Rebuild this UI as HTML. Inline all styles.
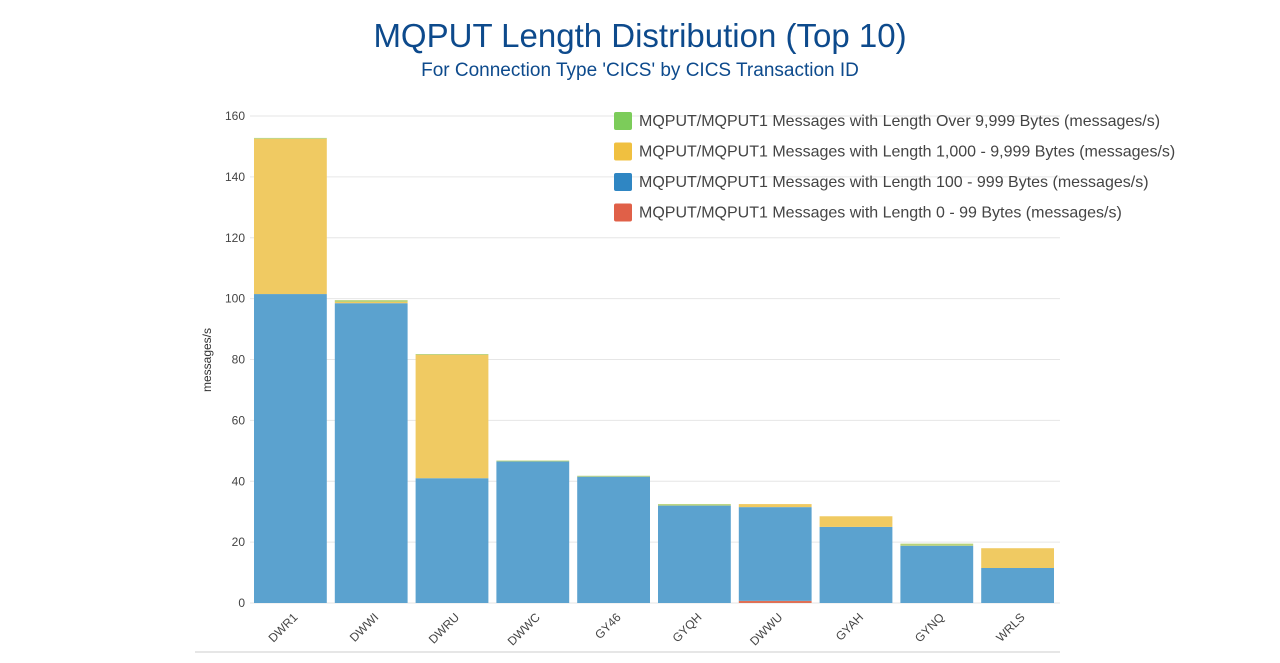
<!DOCTYPE html>
<html><head><meta charset="utf-8"><style>
body{margin:0;background:#fff;width:1280px;height:658px;overflow:hidden;font-family:"Liberation Sans",sans-serif}
</style></head><body>
<svg width="1280" height="658" xmlns="http://www.w3.org/2000/svg">
<text x="640" y="47" text-anchor="middle" font-size="33" fill="#0d4a8c" font-family="Liberation Sans, sans-serif">MQPUT Length Distribution (Top 10)</text>
<text x="640" y="76" text-anchor="middle" font-size="19" fill="#0d4a8c" font-family="Liberation Sans, sans-serif">For Connection Type 'CICS' by CICS Transaction ID</text>
<g id="grid"></g><g id="bars"></g><g id="axes"></g><g id="legend"></g>
<line x1="195" y1="652" x2="1060" y2="652" stroke="#ddd" stroke-width="1.5"/>
<text transform="translate(211,360) rotate(-90)" text-anchor="middle" font-size="12" fill="#333">messages/s</text>
</svg>
<script>
const categories=["DWR1","DWWI","DWRU","DWWC","GY46","GYQH","DWWU","GYAH","GYNQ","WRLS"];
const s0_99=[0,0,0,0,0,0,0.7,0,0,0];
const s100_999=[101.5,98.5,41,46.5,41.5,32,30.8,25,18.8,11.5];
const s1000_9999=[51,0.4,40.5,0,0,0,1,3.5,0,6.5];
const sOver=[0.3,0.6,0.3,0.3,0.3,0.5,0,0,0.7,0];
const yTicks=[0,20,40,60,80,100,120,140,160];
const legendLabels=["MQPUT/MQPUT1 Messages with Length Over 9,999 Bytes (messages/s)","MQPUT/MQPUT1 Messages with Length 1,000 - 9,999 Bytes (messages/s)","MQPUT/MQPUT1 Messages with Length 100 - 999 Bytes (messages/s)","MQPUT/MQPUT1 Messages with Length 0 - 99 Bytes (messages/s)"];
const NS="http://www.w3.org/2000/svg";
const L=250,R=1058,T=116,B=603,YMAX=160;
const y=v=>B-(v/YMAX)*(B-T);
const band=(R-L)/categories.length;
const x=i=>L+i*band+4;
const bw=band-8;
function mk(tag,attrs,parent){const e=document.createElementNS(NS,tag);for(const k in attrs)e.setAttribute(k,attrs[k]);document.getElementById(parent).appendChild(e);return e;}
yTicks.forEach(t=>{
  const l=mk('line',{x1:L,x2:1060,y1:y(t),y2:y(t),stroke:'#e6e6e6','stroke-width':1},'grid');
  
  
  const tx=mk('text',{x:245,y:y(t)+4,'text-anchor':'end','font-size':12,fill:'#444'},'axes');
  tx.textContent=t;
  
  
});
const series=[[s0_99,'#e07055','bar-0-99'],[s100_999,'#5ba2cf','bar-100-999'],[s1000_9999,'#f0ca62','bar-1000-9999'],[sOver,'#b8d27a','bar-over-9999']];
categories.forEach((c,i)=>{
  let base=0;
  series.forEach(([arr,col,nm])=>{
    const v=arr[i]; if(v<=0)return;
    const r=mk('rect',{x:x(i),y:y(base+v),width:bw,height:y(base)-y(base+v),fill:col},'bars');
    
    
    base+=v;
  });
  const cx=x(i)+bw/2;
  const tx=mk('text',{x:cx+8,y:618,'text-anchor':'end','font-size':12,fill:'#444',transform:`rotate(-45 ${cx+8} 618)`},'axes');
  tx.textContent=c;
  
  
});
const lcols=['#7ccc5a','#f0c040','#2f86c3','#e06048'];
legendLabels.forEach((lb,i)=>{
  const yy=121+i*30.5;
  const r=mk('rect',{x:614,y:yy-9,width:18,height:18,rx:2,fill:lcols[i]},'legend');
  
  
  const t=mk('text',{x:639,y:yy+5,'font-size':16,fill:'#444'},'legend');
  t.textContent=lb;
  
  
});
</script>
</body></html>
